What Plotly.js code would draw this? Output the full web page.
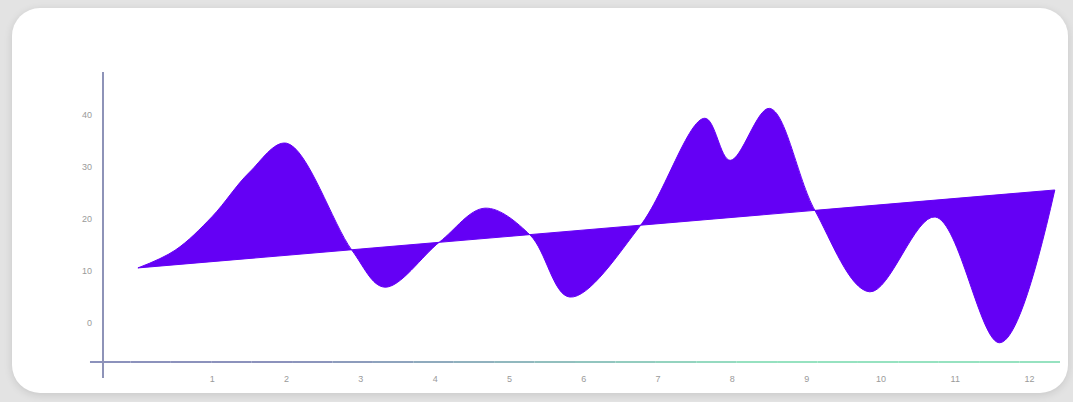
<!DOCTYPE html>
<html>
<head>
<meta charset="utf-8">
<script src="https://cdn.plot.ly/plotly-3.0.1.min.js"></script>
<style>
  html, body { margin: 0; padding: 0; width: 1073px; height: 402px; overflow: hidden; background: #e3e3e3; }
  #card { position: absolute; left: 12px; top: 8px; width: 1056px; height: 385px; background: #fff; border-radius: 28px; box-shadow: 0 2px 8px rgba(0,0,0,0.12); }
  #chart { position: absolute; left: 0; top: 0; width: 1073px; height: 402px; }
</style>
</head>
<body>
<div id="card"></div>
<div id="chart"></div>
<script>
// Curve (spline) values
const curveX = [0, 0.5, 1.0, 1.5, 2.0, 2.88, 3.32, 4.06, 4.67, 5.28, 5.81, 6.76, 7.63, 7.97, 8.5, 9.11, 9.85, 10.73, 11.6, 12.34];
const curveY = [10.6, 14.0, 20.5, 29.0, 34.6, 14.0, 6.9, 15.6, 22.1, 16.9, 5.0, 18.7, 39.4, 31.3, 41.3, 21.7, 6.0, 20.4, -3.8, 25.6];
// Straight trend line
const trendX = [0, 12.34];
const trendY = [10.6, 25.6];
// Ticks
const xTickVals = [1, 2, 3, 4, 5, 6, 7, 8, 9, 10, 11, 12];
const xTickText = ["1", "2", "3", "4", "5", "6", "7", "8", "9", "10", "11", "12"];
const yTickVals = [0, 10, 20, 30, 40];
const yTickText = ["0", "10", "20", "30", "40"];

const purple = '#6400f5';

const traces = [
  { x: curveX, y: curveY, mode: 'lines', line: { shape: 'spline', smoothing: 1, color: purple, width: 1 }, hoverinfo: 'skip', showlegend: false },
  { x: trendX, y: trendY, mode: 'lines', line: { color: purple, width: 1 }, fill: 'tonexty', fillcolor: purple, hoverinfo: 'skip', showlegend: false }
];

// gradient x axis line as segments
const shapes = [];
const segs = 24;
const x0 = -0.0136, x1 = 1.0;
const c0 = [140, 146, 188], c1 = [150, 226, 192];
for (let i = 0; i < segs; i++) {
  const t = i / (segs - 1);
  const tt = Math.max(0, Math.min(1, (t - 0.2) / 0.5));
  const c = c0.map((v, k) => Math.round(v + (c1[k] - v) * tt));
  shapes.push({ type: 'line', xref: 'paper', yref: 'paper', x0: x0 + (x1 - x0) * i / segs, x1: x0 + (x1 - x0) * (i + 1) / segs, y0: 0, y1: 0, line: { color: `rgb(${c[0]},${c[1]},${c[2]})`, width: 2 } });
}
shapes.push({ type: 'line', xref: 'paper', yref: 'paper', x0: 0, x1: 0, y0: -0.055, y1: 1, line: { color: '#8e93b8', width: 2 } });

const layout = {
  width: 1073, height: 402,
  margin: { l: 103, r: 13, t: 72, b: 40 },
  paper_bgcolor: 'rgba(0,0,0,0)',
  plot_bgcolor: 'rgba(0,0,0,0)',
  xaxis: { range: [-0.47, 12.41], showgrid: false, zeroline: false, showline: false, tickvals: xTickVals, ticktext: xTickText, tickfont: { size: 9, color: '#9a9a9a', family: 'Liberation Sans, Arial' }, ticks: '', ticklabelstandoff: 10 },
  yaxis: { range: [-7.5, 48.3], showgrid: false, zeroline: false, showline: false, tickvals: yTickVals, ticktext: yTickText, tickfont: { size: 9, color: '#9a9a9a', family: 'Liberation Sans, Arial' }, ticks: '', ticklabelstandoff: 10 },
  shapes: shapes
};

Plotly.newPlot('chart', traces, layout, { displayModeBar: false, staticPlot: true });
</script>
</body>
</html>
